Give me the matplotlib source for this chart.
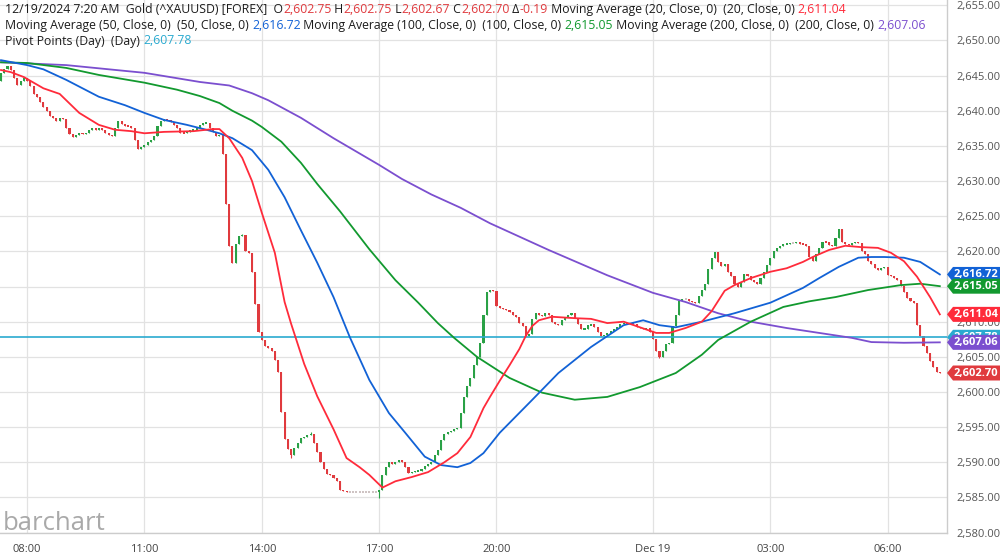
"""
Gold (^XAUUSD) 5-minute candles with moving averages and day pivot,
drawn in the barchart.com style. Writes out.png (1000x556).
"""

import matplotlib
matplotlib.use("Agg")
import matplotlib.pyplot as plt
from matplotlib.patches import Polygon
from matplotlib.transforms import blended_transform_factory
import numpy as np

plt.rcParams["font.family"] = ["Open Sans", "DejaVu Sans"]

# ── Data (5-minute bars, 07:20 Dec 18 -> 07:20 Dec 19) ────────────────────────

open0 = 2644.3
closes = [
    2645.4, 2646.0, 2646.4, 2645.8, 2644.6, 2643.6, 2644.2, 2644.7, 2644.2, 2643.5, 2642.4,
    2641.9, 2641.2, 2640.6, 2640.0, 2639.3, 2639.0, 2638.6, 2639.0, 2638.8, 2637.6,
    2636.7, 2636.3, 2636.6, 2636.8, 2636.7, 2636.9, 2637.2, 2637.5, 2637.3, 2637.6,
    2637.2, 2636.8, 2636.5, 2636.4, 2637.6, 2638.5, 2638.1, 2637.9, 2637.8, 2637.6,
    2635.9, 2634.6, 2634.8, 2635.2, 2635.6, 2635.9, 2636.4, 2637.8, 2638.6, 2638.9,
    2638.7, 2638.4, 2638.0, 2637.6, 2636.9, 2636.8, 2637.0, 2637.2, 2637.3, 2637.5,
    2638.0, 2638.2, 2638.3, 2637.6, 2637.0, 2636.4, 2636.5, 2633.8, 2626.8, 2620.8,
    2618.3, 2621.0, 2622.2, 2622.3, 2620.0, 2619.8, 2617.0, 2612.5, 2608.6, 2607.4,
    2606.5, 2606.3, 2605.8, 2604.6, 2602.8, 2597.2, 2593.3, 2591.9, 2591.0, 2592.0,
    2592.8, 2593.4, 2593.6, 2593.9, 2594.0, 2592.8, 2591.5, 2590.0, 2589.0, 2588.4,
    2588.2, 2587.8, 2587.3, 2586.1, 2585.9, 2585.8, 2585.8, 2585.8, 2585.8, 2585.8,
    2585.8, 2585.8, 2585.8, 2585.8, 2585.8, 2586.0, 2588.2, 2589.3, 2590.0, 2589.8,
    2590.0, 2590.3, 2590.1, 2589.3, 2588.5, 2588.6, 2588.7, 2588.8, 2589.1, 2589.4,
    2589.7, 2590.1, 2591.0, 2591.8, 2593.2, 2594.0, 2594.3, 2594.5, 2594.7, 2594.9,
    2597.0, 2599.3, 2600.9, 2602.0, 2603.9, 2605.0, 2607.0, 2611.0, 2614.2, 2614.5,
    2614.3, 2612.2, 2612.0, 2611.8, 2611.6, 2611.4, 2611.0, 2610.6, 2609.8, 2609.4,
    2608.0, 2608.3, 2610.4, 2611.2, 2611.0, 2610.8, 2611.2, 2611.0, 2609.9, 2609.7,
    2609.5, 2610.3, 2610.6, 2611.0, 2611.2, 2610.5, 2609.7, 2608.9, 2609.0, 2609.5,
    2609.6, 2609.2, 2608.5, 2608.0, 2608.1, 2608.4, 2608.7, 2609.0, 2609.3, 2609.6,
    2609.8, 2609.7, 2609.8, 2609.7, 2609.3, 2609.1, 2609.0, 2609.1, 2608.5, 2607.5,
    2605.8, 2605.0, 2605.9, 2606.8, 2607.0, 2609.4, 2611.0, 2613.0, 2613.2, 2613.2,
    2613.0, 2612.8, 2612.6, 2613.6, 2614.5, 2615.3, 2617.5, 2619.0, 2619.9, 2618.5,
    2617.9, 2618.2, 2617.0, 2616.5, 2615.3, 2615.0, 2615.6, 2616.8, 2616.5, 2616.0,
    2615.7, 2615.4, 2616.2, 2617.0, 2618.0, 2619.0, 2620.0, 2620.5, 2620.8, 2621.0,
    2621.1, 2621.2, 2621.2, 2621.3, 2621.1, 2621.0, 2620.7, 2619.2, 2618.6, 2619.6,
    2620.5, 2621.4, 2621.3, 2620.9, 2620.8, 2621.9, 2623.2, 2621.4, 2621.0, 2620.9,
    2621.2, 2621.4, 2621.2, 2620.0, 2619.6, 2618.7, 2618.2, 2617.6, 2617.3, 2617.6,
    2617.8, 2616.6, 2616.5, 2616.2, 2616.0, 2615.1, 2614.2, 2613.3, 2613.0, 2612.6,
    2609.5, 2607.9, 2606.6, 2605.6, 2604.4, 2603.6, 2602.9, 2602.7,
]
wick_high = {74: 2622.5, 95: 2594.3}
wick_low = {89: 2590.6, 116: 2584.9, 202: 2604.8}

# moving averages, sampled at bar indices
ma20_idx = [0, 3, 7, 13, 18, 24, 30, 35, 40, 44, 50, 59, 65, 67, 70, 74, 77, 80, 84, 87,
            89, 93, 97, 102, 106, 110, 113, 117, 121, 126, 131, 136, 140, 144, 148, 150,
            153, 156, 159, 161, 163, 165, 169, 176, 181, 186, 191, 196, 201, 205, 210,
            215, 218, 222, 225, 230, 236, 241, 246, 249, 254, 259, 264, 269, 273, 277,
            281, 285, 288]
ma20_val = [2645.8, 2645.5, 2644.8, 2643.2, 2642.4, 2639.7, 2638.0, 2637.3, 2637.1, 2636.8,
            2637.0, 2637.1, 2637.4, 2637.4, 2636.1, 2633.3, 2630.0, 2625.5, 2619.8, 2612.8,
            2609.7, 2604.0, 2599.4, 2594.7, 2590.6, 2589.3, 2588.2, 2586.4, 2587.3, 2587.9,
            2588.6, 2590.0, 2591.3, 2593.6, 2597.7, 2599.3, 2601.6, 2603.8, 2606.1, 2608.0,
            2609.4, 2610.2, 2610.7, 2610.5, 2610.4, 2609.8, 2610.0, 2609.2, 2608.4, 2608.4,
            2609.1, 2610.0, 2611.5, 2614.4, 2615.2, 2616.2, 2617.1, 2617.6, 2618.5, 2619.2,
            2620.2, 2620.8, 2620.6, 2620.5, 2619.8, 2618.6, 2616.4, 2613.5, 2611.04]

ma50_idx = [0, 8, 13, 20, 30, 38, 44, 50, 57, 63, 67, 71, 77, 82, 87, 92, 97, 102, 107, 113,
            119, 124, 130, 135, 140, 144, 148, 153, 163, 171, 181, 191, 197, 202, 207, 215,
            225, 236, 246, 251, 257, 263, 267, 271, 277, 282, 288]
ma50_val = [2647.2, 2646.5, 2645.9, 2644.4, 2642.0, 2640.8, 2639.7, 2638.7, 2638.0, 2637.3,
            2636.8, 2636.1, 2634.4, 2631.6, 2627.7, 2623.0, 2618.4, 2613.5, 2607.8, 2601.7,
            2597.0, 2594.2, 2590.8, 2589.6, 2589.3, 2589.9, 2591.3, 2594.2, 2598.9, 2602.7,
            2606.4, 2609.5, 2610.2, 2609.5, 2609.2, 2610.0, 2611.2, 2612.7, 2614.8, 2616.2,
            2617.8, 2619.1, 2619.2, 2619.2, 2619.1, 2618.5, 2616.72]

ma100_idx = [0, 8, 20, 30, 44, 54, 61, 67, 71, 77, 80, 86, 92, 97, 104, 113, 121, 128, 134,
             139, 146, 156, 166, 176, 186, 196, 207, 215, 220, 230, 240, 248, 256, 266, 276,
             282, 288]
ma100_val = [2646.9, 2646.8, 2646.1, 2645.1, 2644.0, 2643.0, 2642.1, 2641.1, 2640.0, 2638.6,
             2637.7, 2635.6, 2632.6, 2629.6, 2625.7, 2620.3, 2615.9, 2612.7, 2609.8, 2607.7,
             2605.0, 2602.0, 2599.9, 2598.9, 2599.3, 2600.7, 2602.7, 2605.3, 2607.4, 2610.0,
             2612.1, 2612.9, 2613.5, 2614.5, 2615.2, 2615.4, 2615.05]

ma200_idx = [0, 20, 44, 61, 70, 77, 82, 92, 102, 116, 123, 132, 141, 150, 168, 186, 200,
             210, 220, 230, 241, 251, 261, 267, 277, 288]
ma200_val = [2646.9, 2646.5, 2645.4, 2644.1, 2643.6, 2642.5, 2641.5, 2639.0, 2636.1, 2632.3,
             2630.3, 2628.1, 2626.2, 2624.0, 2620.2, 2616.6, 2614.1, 2612.8, 2611.2, 2610.0,
             2609.1, 2608.4, 2607.7, 2607.1, 2607.0, 2607.06]

pivot = 2607.78

time_ticks = [8, 44, 80, 116, 152, 200, 236, 272]
time_labels = ["08:00", "11:00", "14:00", "17:00", "20:00", "Dec 19", "03:00", "06:00"]
price_ticks = list(range(2580, 2656, 5))

# ── Style ─────────────────────────────────────────────────────────────────────

C_UP, C_DN, C_FLAT = "#2aa146", "#e03a3e", "#cfc4c4"
C_MA20, C_MA50, C_MA100, C_MA200 = "#ff2b3b", "#1262d6", "#12992f", "#7b4fcf"
C_PIVOT = "#2aaad0"
C_TEXT = "#1c1c1c"

YMIN, YMAX = 2579.94, 2655.76
AX_H_PX = 533

fig = plt.figure(figsize=(10, 5.56), dpi=100)
ax = fig.add_axes([0, 23 / 556, 0.947, 533 / 556])

# ── Candles ───────────────────────────────────────────────────────────────────

c = np.array(closes)
o = np.concatenate([[open0], c[:-1]])
body_lo = np.minimum(o, c)
body_hi = np.maximum(o, c)
hi = body_hi.copy()
lo = body_lo.copy()
for k, v in wick_high.items():
    hi[k] = v
for k, v in wick_low.items():
    lo[k] = v
x = np.arange(len(c))
colors = np.where(c > o, C_UP, np.where(c < o, C_DN, C_FLAT))

min_h = 0.2
h = np.maximum(body_hi - body_lo, min_h)
bottom = (body_lo + body_hi) / 2 - h / 2
ax.vlines(x, lo, hi, colors=colors, lw=0.8, zorder=2)
ax.bar(x, h, bottom=bottom, width=0.64, color=colors, linewidth=0, zorder=2)

# ── Studies ───────────────────────────────────────────────────────────────────

ax.axhline(pivot, color=C_PIVOT, lw=1.2, zorder=3)
ax.plot(ma200_idx, ma200_val, color=C_MA200, lw=1.3, zorder=4)
ax.plot(ma100_idx, ma100_val, color=C_MA100, lw=1.3, zorder=4)
ax.plot(ma50_idx, ma50_val, color=C_MA50, lw=1.3, zorder=4)
ax.plot(ma20_idx, ma20_val, color=C_MA20, lw=1.3, zorder=4)

# ── Axes ──────────────────────────────────────────────────────────────────────

ax.set_xlim(-0.31, 290.2)
ax.set_ylim(YMIN, YMAX)
ax.set_axisbelow(True)
ax.grid(True, color="#e2e2e2", lw=0.9)
ax.set_xticks(time_ticks, time_labels)
ax.set_yticks(price_ticks, [f"{p:,.2f}" for p in price_ticks])
ax.yaxis.tick_right()
ax.tick_params(axis="y", length=0, pad=7, labelsize=8, labelcolor="#555555")
ax.tick_params(axis="x", length=0, pad=8, labelsize=8, labelcolor="#444444")
for side in ("top", "left"):
    ax.spines[side].set_visible(False)
for side in ("right", "bottom"):
    ax.spines[side].set_color("#cccccc")
    ax.spines[side].set_linewidth(1.0)

# ── Price tags on the right ───────────────────────────────────────────────────

trans = blended_transform_factory(fig.transFigure, ax.transData)
half = 7.5 * (YMAX - YMIN) / AX_H_PX


def price_tag(price, color, z):
    pts = [(0.947, price), (0.953, price + half), (1.0, price + half),
           (1.0, price - half), (0.953, price - half)]
    fig.add_artist(Polygon(pts, closed=True, transform=trans, facecolor=color,
                           edgecolor="none", zorder=z))
    fig.text(0.976, price, f"{price:,.2f}", transform=trans, color="white",
             fontsize=8, fontweight="bold", ha="center", va="center", zorder=z + 0.5)


price_tag(ma50_val[-1], C_MA50, 5)
price_tag(ma100_val[-1], C_MA100, 6)
price_tag(ma20_val[-1], C_MA20, 7)
price_tag(pivot, C_PIVOT, 8)
price_tag(ma200_val[-1], C_MA200, 9)
price_tag(closes[-1], C_DN, 10)

# ── Header legend ─────────────────────────────────────────────────────────────

HFS = 8.8
renderer = fig.canvas.get_renderer()


def text_width(s):
    t = fig.text(0, 0, "|" + s + "|", fontsize=HFS)
    w = t.get_window_extent(renderer).width
    t.remove()
    return w


BARS_W = text_width("")


def header_line(y_px, segments):
    xp = 5
    for s, col in segments:
        fig.text(xp / 1000, 1 - y_px / 556, s, color=col, fontsize=HFS,
                 ha="left", va="center")
        xp += text_width(s) - BARS_W


header_line(9.5, [
    ("12/19/2024 7:20 AM  Gold (^XAUUSD) [FOREX]  O", C_TEXT), ("2,602.75", C_DN),
    (" H", C_TEXT), ("2,602.75", C_DN), (" L", C_TEXT), ("2,602.67", C_DN),
    (" C", C_TEXT), ("2,602.70", C_DN), (" \u0394", C_TEXT), ("-0.19", C_DN),
    (" Moving Average (20, Close, 0)  (20, Close, 0) ", C_TEXT), ("2,611.04", C_MA20),
])
header_line(25.5, [
    ("Moving Average (50, Close, 0)  (50, Close, 0) ", C_TEXT), ("2,616.72", C_MA50),
    (" Moving Average (100, Close, 0)  (100, Close, 0) ", C_TEXT), ("2,615.05", C_MA100),
    (" Moving Average (200, Close, 0)  (200, Close, 0) ", C_TEXT), ("2,607.06", C_MA200),
])
header_line(41, [
    ("Pivot Points (Day)  (Day) ", C_TEXT), ("2,607.78", C_PIVOT),
])

# watermark
fig.text(0.003, 1 - 530 / 556, "barchart", fontsize=18.5, color="#a9a9a9",
         ha="left", va="baseline")

fig.savefig("out.png", dpi=100)
